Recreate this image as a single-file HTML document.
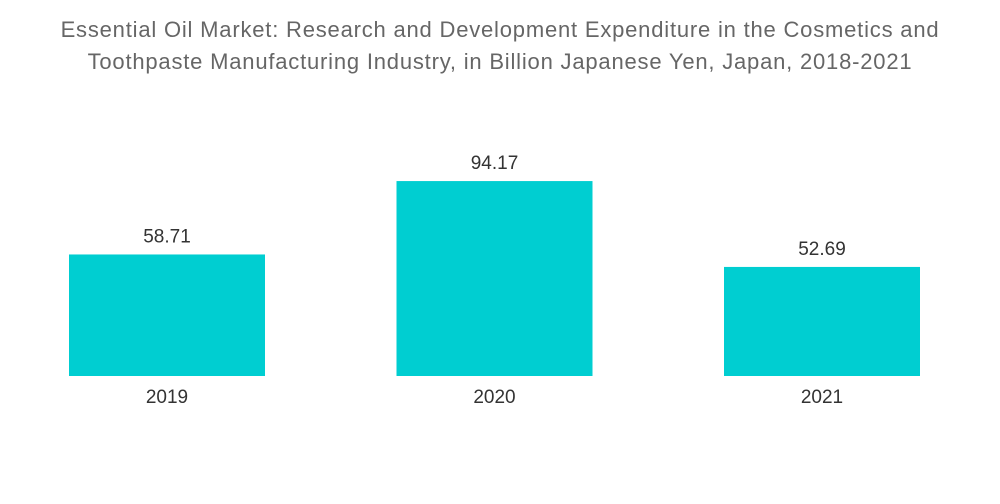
<!DOCTYPE html>
<html><head><meta charset="utf-8"><style>
body{margin:0;background:#fff;width:1000px;height:504px;overflow:hidden;font-family:"Liberation Sans",sans-serif;}
#title{position:absolute;left:0;top:14px;width:1000px;text-align:center;color:#666;font-size:22px;line-height:32px;letter-spacing:0.8px;}
</style></head><body>
<div id="title">Essential Oil Market: Research and Development Expenditure in the Cosmetics and<br>Toothpaste Manufacturing Industry, in Billion Japanese Yen, Japan, 2018-2021</div>
<svg id="chart" width="1000" height="504" style="position:absolute;left:0;top:0"></svg>
<script>
const categories=["2019","2020","2021"];
const values=[58.71,94.17,52.69];
const labels=["58.71","94.17","52.69"];
const svg=document.getElementById('chart');
const NS='http://www.w3.org/2000/svg';
const baseY=376, pxPerUnit=2.07, x0=69, step=327.5, bw=196;
function yScale(v){return baseY-v*pxPerUnit;}
function xScale(i){return x0+i*step;}
categories.forEach((c,i)=>{
  const r=document.createElementNS(NS,'rect');
  r.setAttribute('x',xScale(i));r.setAttribute('y',yScale(values[i]));
  r.setAttribute('width',bw);r.setAttribute('height',baseY-yScale(values[i]));
  r.setAttribute('fill','#00ced1');
  
  
  svg.appendChild(r);
  const t=document.createElementNS(NS,'text');
  t.setAttribute('x',xScale(i)+bw/2);t.setAttribute('y',yScale(values[i])-12);
  t.setAttribute('text-anchor','middle');t.setAttribute('font-size','19');t.setAttribute('fill','#333');
  t.textContent=labels[i];
  
  
  svg.appendChild(t);
  const x=document.createElementNS(NS,'text');
  x.setAttribute('x',xScale(i)+bw/2);x.setAttribute('y',403);
  x.setAttribute('text-anchor','middle');x.setAttribute('font-size','19');x.setAttribute('fill','#333');
  x.textContent=c;
  
  
  svg.appendChild(x);
});
</script>
</body></html>
